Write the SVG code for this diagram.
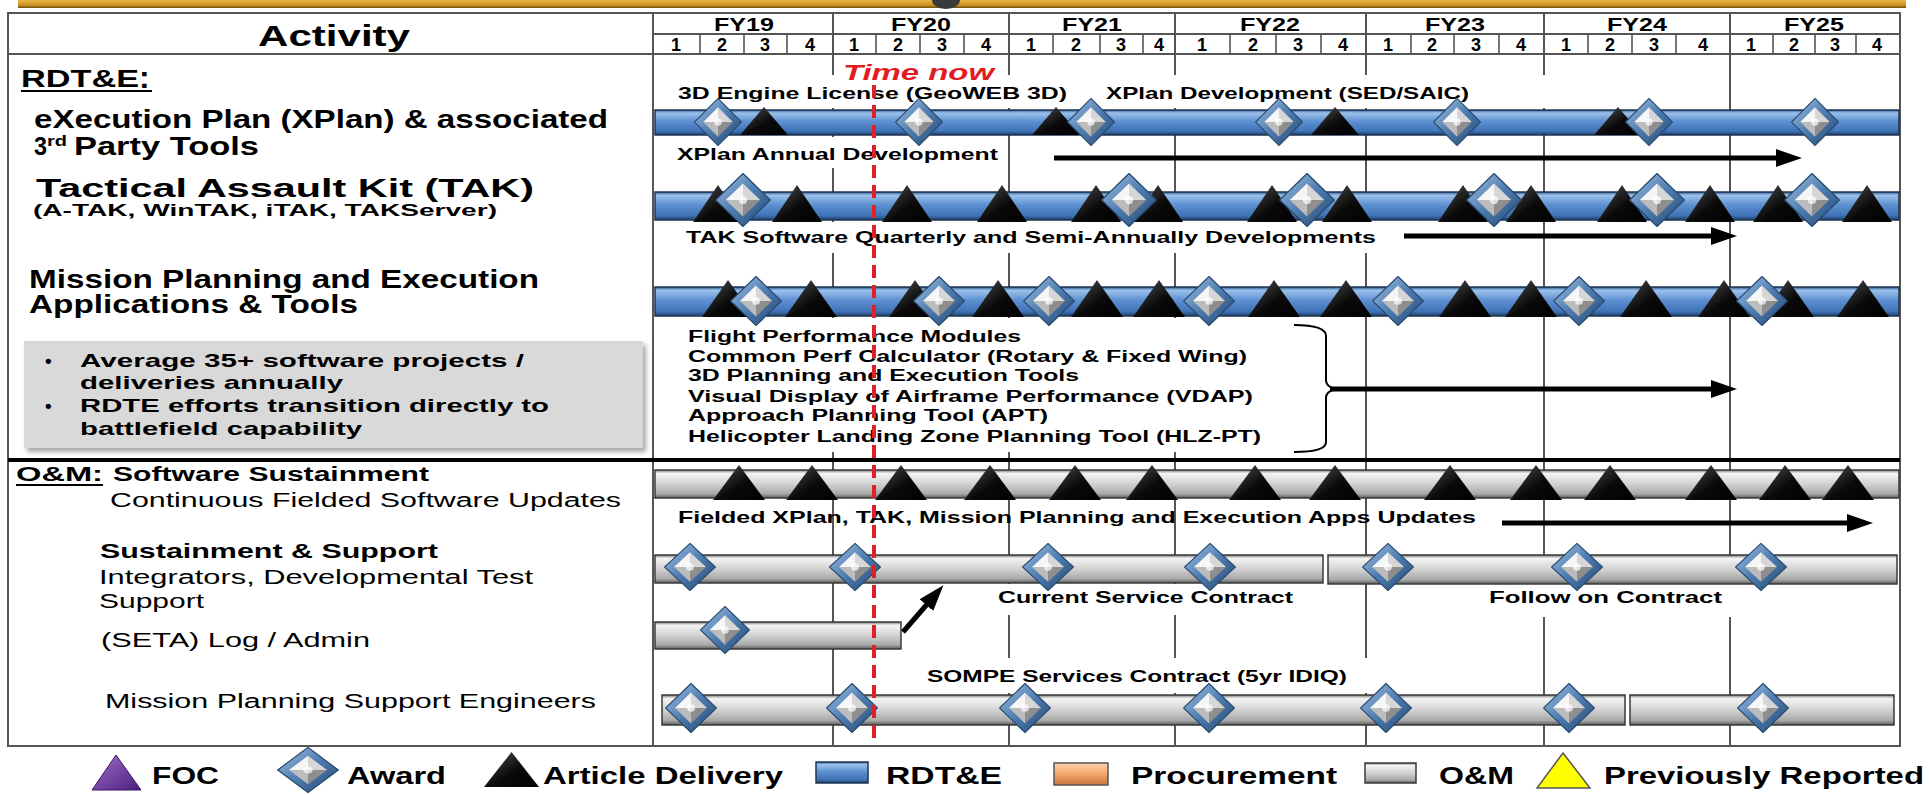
<svg xmlns="http://www.w3.org/2000/svg" xmlns:xlink="http://www.w3.org/1999/xlink" width="1930" height="795" viewBox="0 0 1930 795">
<style>
.t{font-family:"Liberation Sans",Arial,sans-serif;fill:#000;}
.b{font-weight:bold;}
.grid{stroke:#555;stroke-width:2;fill:none;}
.qd{stroke:#555;stroke-width:1.6;}
.lbl{fill:#fff;}
.blue{fill:url(#gBlue);stroke:#1f3550;stroke-width:1.5;}
.gray{fill:url(#gGray);stroke:#3a3a3a;stroke-width:1.5;}
.arr{stroke:#000;stroke-width:5;fill:none;marker-end:url(#ah);}
</style>
<defs>
<linearGradient id="gBlue" x1="0" y1="0" x2="0" y2="1">
<stop offset="0" stop-color="#2f5d95"/><stop offset="0.12" stop-color="#9cc1ea"/><stop offset="0.45" stop-color="#5e91d2"/><stop offset="0.85" stop-color="#3e72b6"/><stop offset="1" stop-color="#1e3d66"/>
</linearGradient>
<linearGradient id="gGray" x1="0" y1="0" x2="0" y2="1">
<stop offset="0" stop-color="#777"/><stop offset="0.12" stop-color="#f4f4f4"/><stop offset="0.5" stop-color="#d2d2d2"/><stop offset="0.85" stop-color="#a9a9a9"/><stop offset="1" stop-color="#5c5c5c"/>
</linearGradient>
<linearGradient id="gRing" x1="0" y1="0" x2="1" y2="1">
<stop offset="0" stop-color="#a4c2e4"/><stop offset="0.5" stop-color="#4d7cb0"/><stop offset="1" stop-color="#24466f"/>
</linearGradient>
<linearGradient id="gTri" x1="0" y1="0" x2="1" y2="1">
<stop offset="0" stop-color="#555"/><stop offset="0.55" stop-color="#0a0a0a"/><stop offset="1" stop-color="#000"/>
</linearGradient>
<linearGradient id="gPur" x1="0" y1="0" x2="1" y2="1">
<stop offset="0" stop-color="#a070d0"/><stop offset="1" stop-color="#4b1f7a"/>
</linearGradient>
<linearGradient id="gOra" x1="0" y1="0" x2="0" y2="1">
<stop offset="0" stop-color="#fcd4b0"/><stop offset="0.5" stop-color="#f6a56a"/><stop offset="1" stop-color="#c8763e"/>
</linearGradient>
<linearGradient id="gGold" x1="0" y1="0" x2="0" y2="1">
<stop offset="0" stop-color="#e9b949"/><stop offset="0.7" stop-color="#c58c1c"/><stop offset="1" stop-color="#6b4a10"/>
</linearGradient>
<filter id="sh" x="-5%" y="-10%" width="112%" height="130%">
<feDropShadow dx="3" dy="4" stdDeviation="2.5" flood-color="#000" flood-opacity="0.35"/>
</filter>
<symbol id="dia" viewBox="-26 -26 52 52" preserveAspectRatio="none">
<polygon points="0,-25.5 25.5,0 0,25.5 -25.5,0" fill="url(#gRing)" stroke="#27496f" stroke-width="1.2"/>
<polygon points="0,-16 -16,0 0,0" fill="#f6f6f6"/>
<polygon points="0,-16 16,0 0,0" fill="#d6d6d6"/>
<polygon points="16,0 0,16 0,0" fill="#8e8e8e"/>
<polygon points="-16,0 0,16 0,0" fill="#bcbcbc"/>
<circle cx="0" cy="0" r="4" fill="#fff" opacity="0.7"/>
</symbol>
<symbol id="tri" viewBox="-26 -20 52 40" preserveAspectRatio="none">
<polygon points="0,-20 26,20 -26,20" fill="url(#gTri)"/>
</symbol>
<marker id="ah" markerUnits="userSpaceOnUse" markerWidth="26" markerHeight="18" refX="4" refY="9" orient="auto">
<path d="M0,0 L26,9 L0,18 z" fill="#000"/>
</marker>
</defs>

<rect x="0" y="0" width="1930" height="795" fill="#fff"/>

<g id="top-band">
<rect x="18" y="0" width="1888" height="8" fill="url(#gGold)"/>
<ellipse cx="946" cy="0" rx="14" ry="9" fill="#3a3a3a"/>
</g>

<g id="table-grid">
<rect x="8" y="13" width="1892" height="733" class="grid"/>
<line x1="653" y1="13" x2="653" y2="746" class="grid"/>
<line x1="8" y1="54" x2="1900" y2="54" class="grid"/>
<line x1="653" y1="34" x2="1900" y2="34" class="grid"/>
<g class="qd">
<line x1="700" y1="34" x2="700" y2="54"/><line x1="744" y1="34" x2="744" y2="54"/><line x1="787" y1="34" x2="787" y2="54"/>
<line x1="876" y1="34" x2="876" y2="54"/><line x1="920" y1="34" x2="920" y2="54"/><line x1="964" y1="34" x2="964" y2="54"/>
<line x1="1053" y1="34" x2="1053" y2="54"/><line x1="1100" y1="34" x2="1100" y2="54"/><line x1="1143" y1="34" x2="1143" y2="54"/>
<line x1="1230" y1="34" x2="1230" y2="54"/><line x1="1276" y1="34" x2="1276" y2="54"/><line x1="1321" y1="34" x2="1321" y2="54"/>
<line x1="1411" y1="34" x2="1411" y2="54"/><line x1="1454" y1="34" x2="1454" y2="54"/><line x1="1499" y1="34" x2="1499" y2="54"/>
<line x1="1588" y1="34" x2="1588" y2="54"/><line x1="1632" y1="34" x2="1632" y2="54"/><line x1="1676" y1="34" x2="1676" y2="54"/>
<line x1="1773" y1="34" x2="1773" y2="54"/><line x1="1815" y1="34" x2="1815" y2="54"/><line x1="1856" y1="34" x2="1856" y2="54"/>
</g>
<g class="grid">
<line x1="833" y1="13" x2="833" y2="746"/><line x1="1009" y1="13" x2="1009" y2="746"/><line x1="1175" y1="13" x2="1175" y2="746"/>
<line x1="1366" y1="13" x2="1366" y2="746"/><line x1="1544" y1="13" x2="1544" y2="746"/><line x1="1730" y1="13" x2="1730" y2="746"/>
</g>
<line x1="8" y1="460" x2="1900" y2="460" stroke="#000" stroke-width="4"/>
</g>

<g id="label-backgrounds">
<rect class="lbl" x="660" y="75" width="900" height="33"/>
<rect class="lbl" x="668" y="137" width="340" height="31"/>
<rect class="lbl" x="678" y="222" width="706" height="31"/>
<rect class="lbl" x="680" y="318" width="612" height="134"/>
<rect class="lbl" x="990" y="584" width="310" height="31"/>
<rect class="lbl" x="1480" y="584" width="256" height="33"/>
<rect class="lbl" x="920" y="658" width="452" height="35"/>
</g>

<g id="header">
<text class="t b" x="258" y="46" font-size="30" textLength="152" lengthAdjust="spacingAndGlyphs">Activity</text>
<g font-size="18">
<text class="t b" x="714" y="31" textLength="60" lengthAdjust="spacingAndGlyphs">FY19</text>
<text class="t b" x="891" y="31" textLength="60" lengthAdjust="spacingAndGlyphs">FY20</text>
<text class="t b" x="1062" y="31" textLength="60" lengthAdjust="spacingAndGlyphs">FY21</text>
<text class="t b" x="1240" y="31" textLength="60" lengthAdjust="spacingAndGlyphs">FY22</text>
<text class="t b" x="1425" y="31" textLength="60" lengthAdjust="spacingAndGlyphs">FY23</text>
<text class="t b" x="1607" y="31" textLength="60" lengthAdjust="spacingAndGlyphs">FY24</text>
<text class="t b" x="1784" y="31" textLength="60" lengthAdjust="spacingAndGlyphs">FY25</text>
</g>
<g font-size="18" text-anchor="middle">
<text class="t b" x="676" y="51">1</text><text class="t b" x="722" y="51">2</text><text class="t b" x="765" y="51">3</text><text class="t b" x="810" y="51">4</text>
<text class="t b" x="854" y="51">1</text><text class="t b" x="898" y="51">2</text><text class="t b" x="942" y="51">3</text><text class="t b" x="986" y="51">4</text>
<text class="t b" x="1031" y="51">1</text><text class="t b" x="1076" y="51">2</text><text class="t b" x="1121" y="51">3</text><text class="t b" x="1159" y="51">4</text>
<text class="t b" x="1202" y="51">1</text><text class="t b" x="1253" y="51">2</text><text class="t b" x="1298" y="51">3</text><text class="t b" x="1343" y="51">4</text>
<text class="t b" x="1388" y="51">1</text><text class="t b" x="1432" y="51">2</text><text class="t b" x="1476" y="51">3</text><text class="t b" x="1521" y="51">4</text>
<text class="t b" x="1566" y="51">1</text><text class="t b" x="1610" y="51">2</text><text class="t b" x="1654" y="51">3</text><text class="t b" x="1703" y="51">4</text>
<text class="t b" x="1751" y="51">1</text><text class="t b" x="1794" y="51">2</text><text class="t b" x="1835" y="51">3</text><text class="t b" x="1877" y="51">4</text>
</g>
</g>

<g id="activity-labels">
<text class="t b" x="21" y="87" font-size="23" textLength="118" lengthAdjust="spacingAndGlyphs">RDT&amp;E</text>
<text class="t b" x="139" y="88" font-size="32">:</text>
<line x1="21" y1="91" x2="152" y2="91" stroke="#000" stroke-width="2"/>
<text class="t b" x="34" y="128" font-size="25" textLength="574" lengthAdjust="spacingAndGlyphs">eXecution Plan (XPlan) &amp; associated</text>
<text class="t b" x="34" y="155" font-size="25" textLength="13" lengthAdjust="spacingAndGlyphs">3</text>
<text class="t b" x="47" y="146" font-size="15" textLength="20" lengthAdjust="spacingAndGlyphs">rd</text>
<text class="t b" x="74" y="155" font-size="25" textLength="185" lengthAdjust="spacingAndGlyphs">Party Tools</text>
<text class="t b" x="36" y="197" font-size="25" textLength="498" lengthAdjust="spacingAndGlyphs">Tactical Assault Kit (TAK)</text>
<text class="t b" x="33" y="216" font-size="17" textLength="464" lengthAdjust="spacingAndGlyphs">(A-TAK, WinTAK, iTAK, TAKServer)</text>
<text class="t b" x="29" y="288" font-size="25" textLength="510" lengthAdjust="spacingAndGlyphs">Mission Planning and Execution</text>
<text class="t b" x="29" y="313" font-size="25" textLength="329" lengthAdjust="spacingAndGlyphs">Applications &amp; Tools</text>
</g>

<g id="note-box">
<rect x="24" y="341" width="619" height="107" fill="#d9d9d9" filter="url(#sh)"/>
<g font-size="19">
<text class="t b" x="45" y="367">•</text>
<text class="t b" x="80" y="367" textLength="444" lengthAdjust="spacingAndGlyphs">Average 35+ software projects /</text>
<text class="t b" x="80" y="389" textLength="263" lengthAdjust="spacingAndGlyphs">deliveries annually</text>
<text class="t b" x="45" y="412">•</text>
<text class="t b" x="80" y="412" textLength="469" lengthAdjust="spacingAndGlyphs">RDTE efforts transition directly to</text>
<text class="t b" x="80" y="435" textLength="282" lengthAdjust="spacingAndGlyphs">battlefield capability</text>
</g>
</g>

<g id="om-labels">
<text class="t b" x="16" y="481" font-size="20" textLength="87" lengthAdjust="spacingAndGlyphs">O&amp;M:</text>
<line x1="16" y1="485" x2="103" y2="485" stroke="#000" stroke-width="2"/>
<text class="t b" x="113" y="481" font-size="20" textLength="316" lengthAdjust="spacingAndGlyphs">Software Sustainment</text>
<text class="t" x="110" y="507" font-size="20" textLength="511" lengthAdjust="spacingAndGlyphs">Continuous Fielded Software Updates</text>
<text class="t b" x="100" y="558" font-size="20" textLength="338" lengthAdjust="spacingAndGlyphs">Sustainment &amp; Support</text>
<text class="t" x="99" y="584" font-size="20" textLength="434" lengthAdjust="spacingAndGlyphs">Integrators, Developmental Test</text>
<text class="t" x="99" y="608" font-size="20" textLength="105" lengthAdjust="spacingAndGlyphs">Support</text>
<text class="t" x="101" y="647" font-size="20" textLength="269" lengthAdjust="spacingAndGlyphs">(SETA) Log / Admin</text>
<text class="t" x="105" y="708" font-size="20" textLength="491" lengthAdjust="spacingAndGlyphs">Mission Planning Support Engineers</text>
</g>

<g id="chart-labels" font-size="17">
<text class="t b" x="678" y="99" textLength="389" lengthAdjust="spacingAndGlyphs">3D Engine License (GeoWEB 3D)</text>
<text class="t b" x="1106" y="99" textLength="363" lengthAdjust="spacingAndGlyphs">XPlan Development (SED/SAIC)</text>
<text class="t b" x="677" y="160" textLength="321" lengthAdjust="spacingAndGlyphs">XPlan Annual Development</text>
<text class="t b" x="686" y="243" textLength="690" lengthAdjust="spacingAndGlyphs">TAK Software Quarterly and Semi-Annually Developments</text>
<g font-size="16">
<text class="t b" x="688" y="342" textLength="333" lengthAdjust="spacingAndGlyphs">Flight Performance Modules</text>
<text class="t b" x="688" y="362" textLength="559" lengthAdjust="spacingAndGlyphs">Common Perf Calculator (Rotary &amp; Fixed Wing)</text>
<text class="t b" x="688" y="381" textLength="391" lengthAdjust="spacingAndGlyphs">3D Planning and Execution Tools</text>
<text class="t b" x="688" y="402" textLength="565" lengthAdjust="spacingAndGlyphs">Visual Display of Airframe Performance (VDAP)</text>
<text class="t b" x="688" y="421" textLength="360" lengthAdjust="spacingAndGlyphs">Approach Planning Tool (APT)</text>
<text class="t b" x="688" y="442" textLength="573" lengthAdjust="spacingAndGlyphs">Helicopter Landing Zone Planning Tool (HLZ-PT)</text>
</g>
<text class="t b" x="678" y="523" textLength="798" lengthAdjust="spacingAndGlyphs">Fielded XPlan, TAK, Mission Planning and Execution Apps Updates</text>
<text class="t b" x="998" y="603" textLength="295" lengthAdjust="spacingAndGlyphs">Current Service Contract</text>
<text class="t b" x="1489" y="603" textLength="233" lengthAdjust="spacingAndGlyphs">Follow on Contract</text>
<text class="t b" x="927" y="682" textLength="420" lengthAdjust="spacingAndGlyphs">SOMPE Services Contract (5yr IDIQ)</text>
</g>

<g id="bars">
<rect class="blue" x="655" y="110" width="1244" height="25"/>
<rect class="blue" x="655" y="192" width="1244" height="28"/>
<rect class="blue" x="655" y="287" width="1244" height="29"/>
<rect class="gray" x="655" y="470" width="1244" height="28"/>
<rect class="gray" x="655" y="555" width="668" height="28"/>
<rect class="gray" x="1328" y="555" width="569" height="29"/>
<rect class="gray" x="655" y="622" width="246" height="27"/>
<rect class="gray" x="662" y="695" width="963" height="30"/>
<rect class="gray" x="1630" y="695" width="264" height="30"/>
</g>

<g id="connectors">
<line class="arr" x1="1054" y1="158" x2="1780" y2="158"/>
<line class="arr" x1="1404" y1="236" x2="1715" y2="236"/>
<path d="M1294,325 Q1326,325 1326,336 L1326,380 Q1326,389 1342,389 Q1326,389 1326,398 L1326,442 Q1326,452 1294,452" fill="none" stroke="#000" stroke-width="2"/>
<line class="arr" x1="1330" y1="389" x2="1715" y2="389"/>
<line class="arr" x1="1502" y1="523" x2="1851" y2="523"/>
<line class="arr" x1="903" y1="632" x2="929" y2="602"/>
</g>

<g id="xplan-row">
<use href="#tri" x="740" y="107" width="48" height="28"/><use href="#tri" x="1032" y="107" width="48" height="28"/>
<use href="#tri" x="1311" y="107" width="48" height="28"/><use href="#tri" x="1594" y="107" width="48" height="28"/>
<use href="#dia" x="694" y="98" width="48" height="48"/><use href="#dia" x="895" y="98" width="48" height="48"/>
<use href="#dia" x="1067" y="98" width="48" height="48"/><use href="#dia" x="1255" y="98" width="48" height="48"/>
<use href="#dia" x="1433" y="98" width="48" height="48"/><use href="#dia" x="1625" y="98" width="48" height="48"/>
<use href="#dia" x="1791" y="98" width="48" height="48"/>
</g>

<g id="tak-row">
<use href="#tri" x="693" y="185" width="50" height="37"/><use href="#tri" x="772" y="185" width="50" height="37"/>
<use href="#tri" x="882" y="185" width="50" height="37"/><use href="#tri" x="977" y="185" width="50" height="37"/>
<use href="#tri" x="1071" y="185" width="50" height="37"/><use href="#tri" x="1133" y="185" width="50" height="37"/>
<use href="#tri" x="1247" y="185" width="50" height="37"/><use href="#tri" x="1322" y="185" width="50" height="37"/>
<use href="#tri" x="1438" y="185" width="50" height="37"/><use href="#tri" x="1506" y="185" width="50" height="37"/>
<use href="#tri" x="1597" y="185" width="50" height="37"/><use href="#tri" x="1685" y="185" width="50" height="37"/>
<use href="#tri" x="1753" y="185" width="50" height="37"/><use href="#tri" x="1842" y="185" width="50" height="37"/>
<use href="#dia" x="715" y="173" width="56" height="54"/><use href="#dia" x="1101" y="173" width="56" height="54"/>
<use href="#dia" x="1279" y="173" width="56" height="54"/><use href="#dia" x="1466" y="173" width="56" height="54"/>
<use href="#dia" x="1629" y="173" width="56" height="54"/><use href="#dia" x="1784" y="173" width="56" height="54"/>
</g>

<g id="mission-row">
<use href="#tri" x="702" y="280" width="52" height="37"/><use href="#tri" x="785" y="280" width="52" height="37"/>
<use href="#tri" x="889" y="280" width="52" height="37"/><use href="#tri" x="972" y="280" width="52" height="37"/>
<use href="#tri" x="1071" y="280" width="52" height="37"/><use href="#tri" x="1133" y="280" width="52" height="37"/>
<use href="#tri" x="1248" y="280" width="52" height="37"/><use href="#tri" x="1320" y="280" width="52" height="37"/>
<use href="#tri" x="1439" y="280" width="52" height="37"/><use href="#tri" x="1505" y="280" width="52" height="37"/>
<use href="#tri" x="1620" y="280" width="52" height="37"/><use href="#tri" x="1698" y="280" width="52" height="37"/>
<use href="#tri" x="1762" y="280" width="52" height="37"/><use href="#tri" x="1837" y="280" width="52" height="37"/>
<use href="#dia" x="730" y="276" width="52" height="50"/><use href="#dia" x="913" y="276" width="52" height="50"/>
<use href="#dia" x="1023" y="276" width="52" height="50"/><use href="#dia" x="1183" y="276" width="52" height="50"/>
<use href="#dia" x="1372" y="276" width="52" height="50"/><use href="#dia" x="1553" y="276" width="52" height="50"/>
<use href="#dia" x="1736" y="276" width="52" height="50"/>
</g>

<g id="sustainment-row">
<use href="#tri" x="713" y="465" width="52" height="35"/><use href="#tri" x="786" y="465" width="52" height="35"/>
<use href="#tri" x="875" y="465" width="52" height="35"/><use href="#tri" x="964" y="465" width="52" height="35"/>
<use href="#tri" x="1049" y="465" width="52" height="35"/><use href="#tri" x="1126" y="465" width="52" height="35"/>
<use href="#tri" x="1229" y="465" width="52" height="35"/><use href="#tri" x="1309" y="465" width="52" height="35"/>
<use href="#tri" x="1424" y="465" width="52" height="35"/><use href="#tri" x="1510" y="465" width="52" height="35"/>
<use href="#tri" x="1584" y="465" width="52" height="35"/><use href="#tri" x="1685" y="465" width="52" height="35"/>
<use href="#tri" x="1759" y="465" width="52" height="35"/><use href="#tri" x="1822" y="465" width="52" height="35"/>
</g>

<g id="support-row">
<use href="#dia" x="664" y="543" width="52" height="48"/><use href="#dia" x="829" y="543" width="52" height="48"/>
<use href="#dia" x="1022" y="543" width="52" height="48"/><use href="#dia" x="1184" y="543" width="52" height="48"/>
<use href="#dia" x="1362" y="543" width="52" height="48"/><use href="#dia" x="1551" y="543" width="52" height="48"/>
<use href="#dia" x="1735" y="543" width="52" height="48"/>
</g>

<g id="seta-row">
<use href="#dia" x="700" y="606" width="50" height="48"/>
</g>

<g id="mpse-row">
<use href="#dia" x="665" y="683" width="52" height="50"/><use href="#dia" x="826" y="683" width="52" height="50"/>
<use href="#dia" x="999" y="683" width="52" height="50"/><use href="#dia" x="1183" y="683" width="52" height="50"/>
<use href="#dia" x="1360" y="683" width="52" height="50"/><use href="#dia" x="1543" y="683" width="52" height="50"/>
<use href="#dia" x="1737" y="683" width="52" height="50"/>
</g>

<g id="time-now">
<text class="t b" x="843" y="80" font-size="22" font-style="italic" style="fill:#e31b23" textLength="151" lengthAdjust="spacingAndGlyphs">Time now</text>
<line x1="874" y1="85" x2="874" y2="745" stroke="#e02027" stroke-width="4" stroke-dasharray="13 7"/>
</g>

<g id="legend" font-size="23">
<polygon points="116,755 141,790 92,790" fill="url(#gPur)" stroke="#3a1560" stroke-width="1"/>
<text class="t b" x="152" y="784" textLength="67" lengthAdjust="spacingAndGlyphs">FOC</text>
<use href="#dia" x="277" y="747" width="62" height="46"/>
<text class="t b" x="347" y="784" textLength="99" lengthAdjust="spacingAndGlyphs">Award</text>
<use href="#tri" x="484" y="752" width="55" height="35"/>
<text class="t b" x="543" y="784" textLength="240" lengthAdjust="spacingAndGlyphs">Article Delivery</text>
<rect class="blue" x="816" y="762" width="52" height="21"/>
<text class="t b" x="886" y="784" textLength="116" lengthAdjust="spacingAndGlyphs">RDT&amp;E</text>
<rect x="1054" y="763" width="54" height="22" fill="url(#gOra)" stroke="#555" stroke-width="1.5"/>
<text class="t b" x="1131" y="784" textLength="206" lengthAdjust="spacingAndGlyphs">Procurement</text>
<rect class="gray" x="1365" y="763" width="51" height="20"/>
<text class="t b" x="1439" y="784" textLength="75" lengthAdjust="spacingAndGlyphs">O&amp;M</text>
<polygon points="1563,753 1590,788 1537,788" fill="#ffff00" stroke="#555" stroke-width="1.5"/>
<text class="t b" x="1604" y="784" textLength="320" lengthAdjust="spacingAndGlyphs">Previously Reported</text>
</g>
</svg>
